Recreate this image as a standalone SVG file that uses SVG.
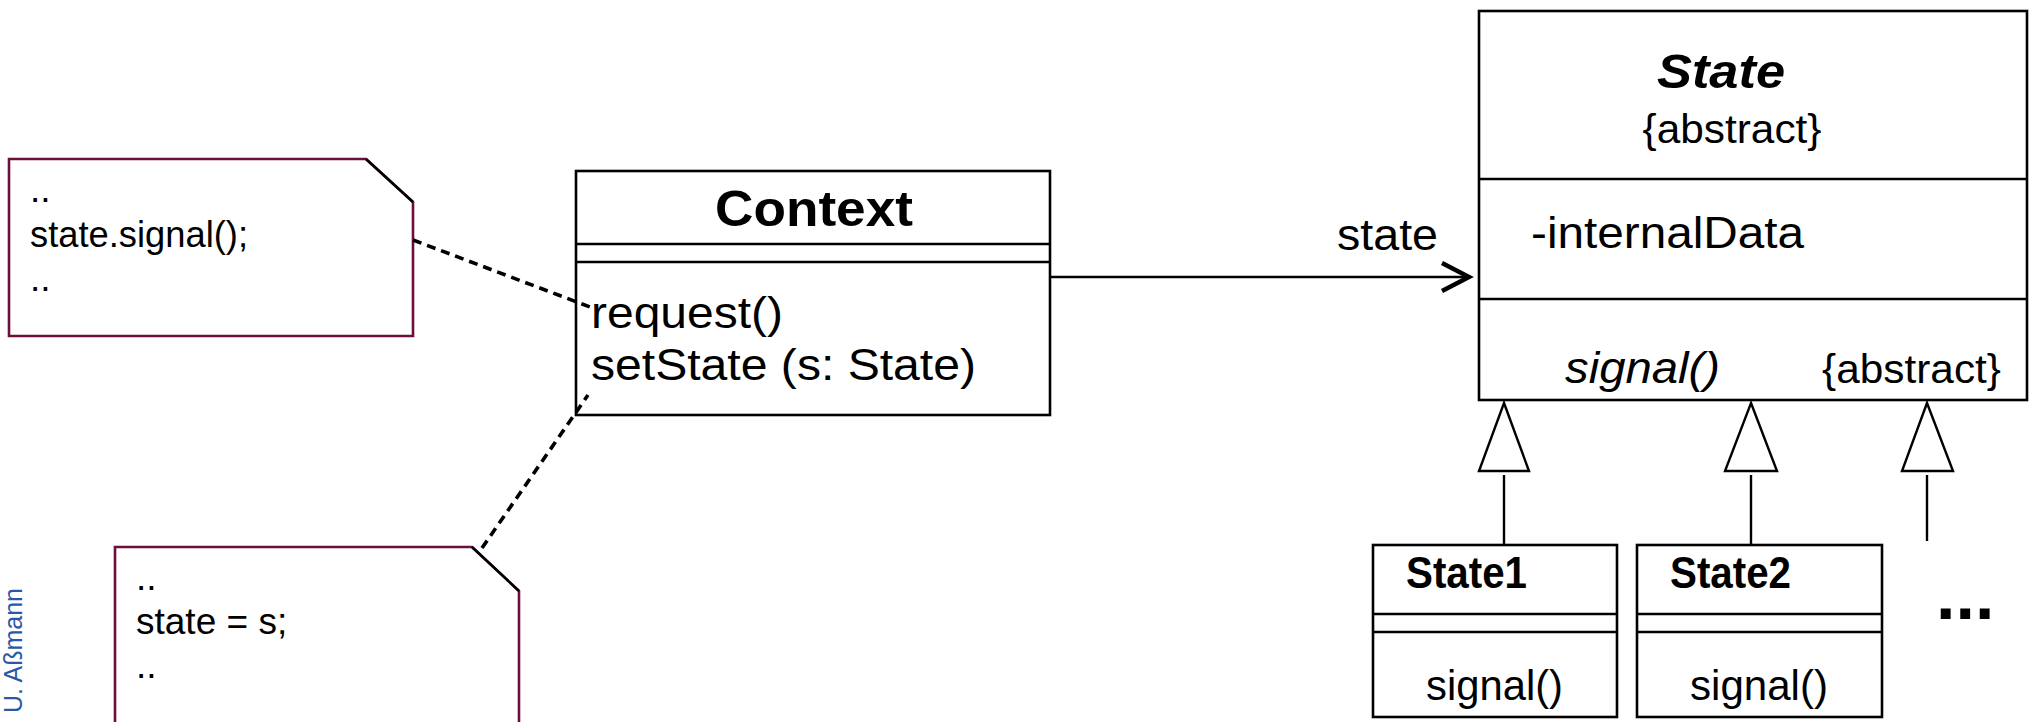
<svg xmlns="http://www.w3.org/2000/svg" width="2033" height="722" viewBox="0 0 2033 722">
<style>
.t{font-family:"Liberation Sans",Arial,Helvetica,sans-serif;fill:#000}
.box{fill:#fff;stroke:#000;stroke-width:2.6}
.sep{stroke:#000;stroke-width:2.6;fill:none}
.note{fill:#fff;stroke:#6b0f3c;stroke-width:2.6}
.fold{stroke:#000;stroke-width:2.6;fill:none}
.dash{stroke:#000;stroke-width:3.6;stroke-dasharray:9 6;fill:none}
.gen{fill:#fff;stroke:#000;stroke-width:2.4}
.ln{stroke:#000;stroke-width:2.4;fill:none}
</style>
<rect width="2033" height="722" fill="#fff"/>
<text class="t" transform="translate(22,588) rotate(-90)" text-anchor="end" font-size="25" style="fill:#2b58a6">U. Aßmann</text>

<g id="note1">
<polygon class="note" points="9,159 366,159 413,202 413,336 9,336"/>
<line class="fold" x1="366" y1="159" x2="413" y2="202"/>
<text class="t" x="30" y="202" font-size="37">..</text>
<text class="t" x="30" y="247" font-size="37" textLength="218" lengthAdjust="spacingAndGlyphs">state.signal();</text>
<text class="t" x="30" y="291" font-size="37">..</text>
</g>

<g id="note2">
<polygon class="note" points="115,730 115,547 472,547 519,591 519,730"/>
<line class="fold" x1="472" y1="547" x2="519" y2="591"/>
<text class="t" x="136" y="590" font-size="37">..</text>
<text class="t" x="136" y="634" font-size="37">state = s;</text>
<text class="t" x="136" y="678" font-size="37">..</text>
</g>

<g id="context">
<rect class="box" x="576" y="171" width="474" height="244"/>
<line class="sep" x1="576" y1="244" x2="1050" y2="244"/>
<line class="sep" x1="576" y1="262" x2="1050" y2="262"/>
<text class="t" x="814" y="226" font-size="50" font-weight="bold" text-anchor="middle" textLength="198" lengthAdjust="spacingAndGlyphs">Context</text>
<text class="t" x="591" y="328" font-size="45" textLength="192" lengthAdjust="spacingAndGlyphs">request()</text>
<text class="t" x="591" y="380" font-size="45" textLength="385" lengthAdjust="spacingAndGlyphs">setState (s: State)</text>
</g>

<g id="state">
<rect class="box" x="1479" y="11" width="548" height="389"/>
<line class="sep" x1="1479" y1="179" x2="2027" y2="179"/>
<line class="sep" x1="1479" y1="299" x2="2027" y2="299"/>
<text class="t" x="1721" y="88" font-size="49" font-weight="bold" font-style="italic" text-anchor="middle" textLength="128" lengthAdjust="spacingAndGlyphs">State</text>
<text class="t" x="1732" y="143" font-size="40" text-anchor="middle" textLength="179" lengthAdjust="spacingAndGlyphs">{abstract}</text>
<text class="t" x="1531" y="248" font-size="44" textLength="273" lengthAdjust="spacingAndGlyphs">-internalData</text>
<text class="t" x="1565" y="383" font-size="44" font-style="italic" textLength="155" lengthAdjust="spacingAndGlyphs">signal()</text>
<text class="t" x="1822" y="383" font-size="40" textLength="179" lengthAdjust="spacingAndGlyphs">{abstract}</text>
</g>

<g id="state1">
<rect class="box" x="1373" y="545" width="244" height="172"/>
<line class="sep" x1="1373" y1="614" x2="1617" y2="614"/>
<line class="sep" x1="1373" y1="632" x2="1617" y2="632"/>
<text class="t" x="1406" y="588" font-size="44" font-weight="bold" textLength="121" lengthAdjust="spacingAndGlyphs">State1</text>
<text class="t" x="1426" y="700" font-size="43" textLength="137" lengthAdjust="spacingAndGlyphs">signal()</text>
</g>

<g id="state2">
<rect class="box" x="1637" y="545" width="245" height="172"/>
<line class="sep" x1="1637" y1="614" x2="1882" y2="614"/>
<line class="sep" x1="1637" y1="632" x2="1882" y2="632"/>
<text class="t" x="1670" y="588" font-size="44" font-weight="bold" textLength="121" lengthAdjust="spacingAndGlyphs">State2</text>
<text class="t" x="1690" y="700" font-size="43" textLength="138" lengthAdjust="spacingAndGlyphs">signal()</text>
</g>

<g id="more">
<text class="t" x="1936" y="619" font-size="70" font-weight="bold">...</text>
</g>

<g id="connectors">
<line class="dash" x1="413" y1="240" x2="590" y2="307"/>
<line class="dash" x1="482" y1="548" x2="588" y2="395"/>
<line class="ln" x1="1050" y1="277" x2="1468" y2="277"/>
<polyline points="1442,263 1469,277 1442,291" fill="none" stroke="#000" stroke-width="4.5"/>
<text class="t" x="1337" y="250" font-size="45" textLength="101" lengthAdjust="spacingAndGlyphs">state</text>
<polygon class="gen" points="1504,403 1529,471 1479,471"/>
<line class="ln" x1="1504" y1="475" x2="1504" y2="545"/>
<polygon class="gen" points="1751,403 1777,471 1725,471"/>
<line class="ln" x1="1751" y1="475" x2="1751" y2="545"/>
<polygon class="gen" points="1927,403 1953,471 1902,471"/>
<line class="ln" x1="1927" y1="475" x2="1927" y2="541"/>
</g>
</svg>
